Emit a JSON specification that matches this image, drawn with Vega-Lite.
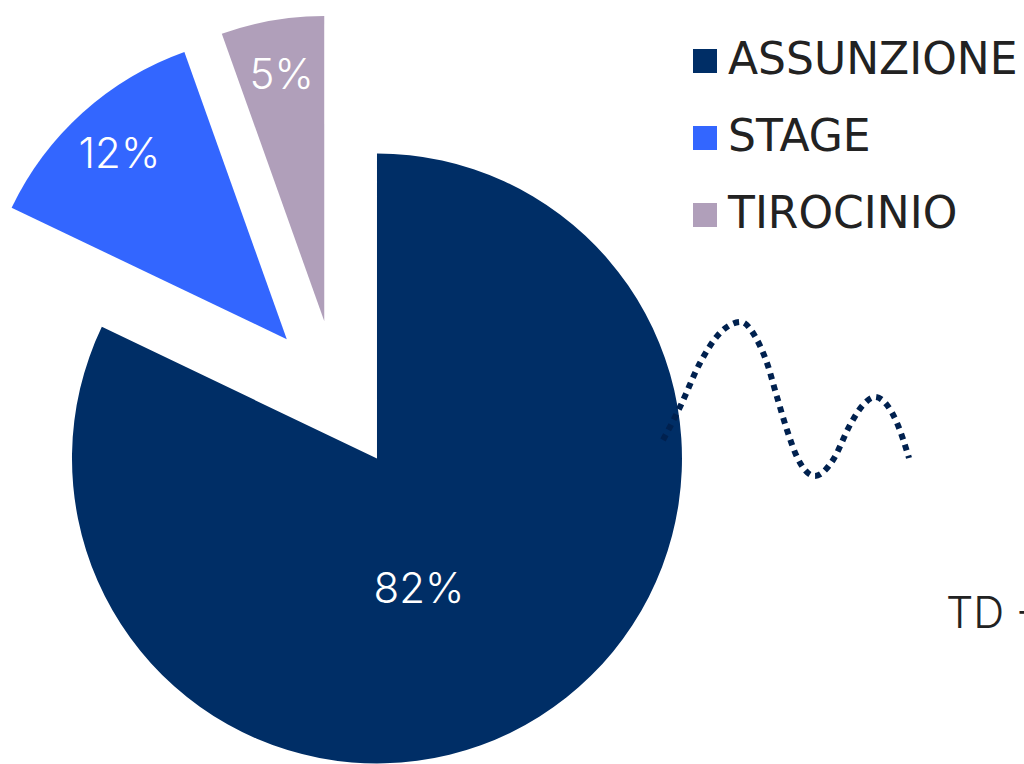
{
  "$schema": "https://vega.github.io/schema/vega-lite/v6.json",
  "width": 1024,
  "height": 764,
  "padding": 0,
  "autosize": {"type": "none"},
  "background": "white",
  "config": {"view": {"stroke": null}},
  "layer": [
    {
      "data": {"values": [
        {"categoria": "ASSUNZIONE", "valore": 82.1},
        {"categoria": "STAGE", "valore": 12.45},
        {"categoria": "TIROCINIO", "valore": 5.45}
      ]},
      "transform": [
        {"stack": "valore", "groupby": [], "as": ["inizio", "fine"]},
        {"calculate": "(datum.inizio + datum.fine) / 2", "as": "mezzo"},
        {"calculate": "75 * sin(datum.mezzo / 100 * 2 * PI)", "as": "dx"},
        {"calculate": "-75 * cos(datum.mezzo / 100 * 2 * PI)", "as": "dy"},
        {"calculate": "format(datum.valore, '.0f') + '%'", "as": "etichetta"}
      ],
      "layer": [
        {
          "mark": {"type": "arc", "x": 337, "y": 395, "radius": 305},
          "encoding": {
            "theta": {"field": "inizio", "type": "quantitative", "stack": null, "scale": {"domain": [0, 100]}},
            "theta2": {"field": "fine"},
            "xOffset": {"field": "dx", "type": "quantitative", "scale": null},
            "yOffset": {"field": "dy", "type": "quantitative", "scale": null},
            "color": {
              "field": "categoria",
              "type": "nominal",
              "scale": {"domain": ["ASSUNZIONE", "STAGE", "TIROCINIO"], "range": ["#002e66", "#3366ff", "#b09fba"]},
              "legend": {
                "title": null,
                "orient": "none",
                "legendX": 683,
                "legendY": 39,
                "padding": 0,
                "symbolType": "square",
                "symbolSize": 576,
                "symbolStrokeWidth": 0,
                "labelFont": "DejaVu Sans",
                "labelFontSize": 44,
                "labelColor": "#222222",
                "labelOffset": 1,
                "rowPadding": 33,
                "labelLimit": 400
              }
            }
          }
        },
        {
          "transform": [{"filter": "datum.categoria === 'ASSUNZIONE'"}],
          "mark": {"type": "text", "x": 337, "y": 395, "radius": 133, "dx": -29, "dy": 19, "font": "Inter", "fontWeight": 300, "fontSize": 42, "color": "white", "align": "center", "baseline": "middle"},
          "encoding": {
            "theta": {"field": "mezzo", "type": "quantitative", "stack": null, "scale": {"domain": [0, 100]}},
            "xOffset": {"field": "dx", "type": "quantitative", "scale": null},
            "yOffset": {"field": "dy", "type": "quantitative", "scale": null},
            "text": {"field": "etichetta"}
          }
        },
        {
          "transform": [{"filter": "datum.categoria !== 'ASSUNZIONE'"}],
          "mark": {"type": "text", "x": 337, "y": 395, "radius": 250, "dy": 1, "font": "Inter", "fontWeight": 300, "fontSize": 42, "color": "white", "align": "center", "baseline": "middle"},
          "encoding": {
            "theta": {"field": "mezzo", "type": "quantitative", "stack": null, "scale": {"domain": [0, 100]}},
            "xOffset": {"field": "dx", "type": "quantitative", "scale": null},
            "yOffset": {"field": "dy", "type": "quantitative", "scale": null},
            "text": {"field": "etichetta"}
          }
        }
      ]
    },
    {
      "data": {"values": [
        {"px": 663, "py": 440},
        {"px": 680, "py": 407},
        {"px": 700, "py": 363},
        {"px": 720, "py": 333},
        {"px": 741, "py": 322},
        {"px": 756, "py": 338},
        {"px": 767, "py": 363},
        {"px": 777, "py": 397},
        {"px": 787, "py": 430},
        {"px": 797, "py": 457},
        {"px": 815, "py": 476},
        {"px": 833, "py": 460},
        {"px": 850, "py": 425},
        {"px": 863, "py": 405},
        {"px": 875, "py": 397},
        {"px": 887, "py": 405},
        {"px": 897, "py": 423},
        {"px": 909, "py": 458}
      ]},
      "mark": {"type": "line", "interpolate": "monotone", "color": "#00214f", "strokeWidth": 6, "strokeDash": [6, 5.5], "strokeCap": "butt"},
      "encoding": {
        "x": {"field": "px", "type": "quantitative", "scale": {"domain": [0, 1024], "nice": false, "zero": false}, "axis": null},
        "y": {"field": "py", "type": "quantitative", "scale": {"domain": [0, 764], "reverse": true, "nice": false, "zero": false}, "axis": null}
      }
    },
    {
      "data": {"values": [{"testo": "TD -"}]},
      "mark": {"type": "text", "font": "Inter", "fontWeight": 300, "fontSize": 43, "color": "#222222", "align": "left", "baseline": "alphabetic"},
      "encoding": {
        "x": {"datum": 946, "type": "quantitative"},
        "y": {"datum": 628, "type": "quantitative"},
        "text": {"field": "testo"}
      }
    }
  ]
}
